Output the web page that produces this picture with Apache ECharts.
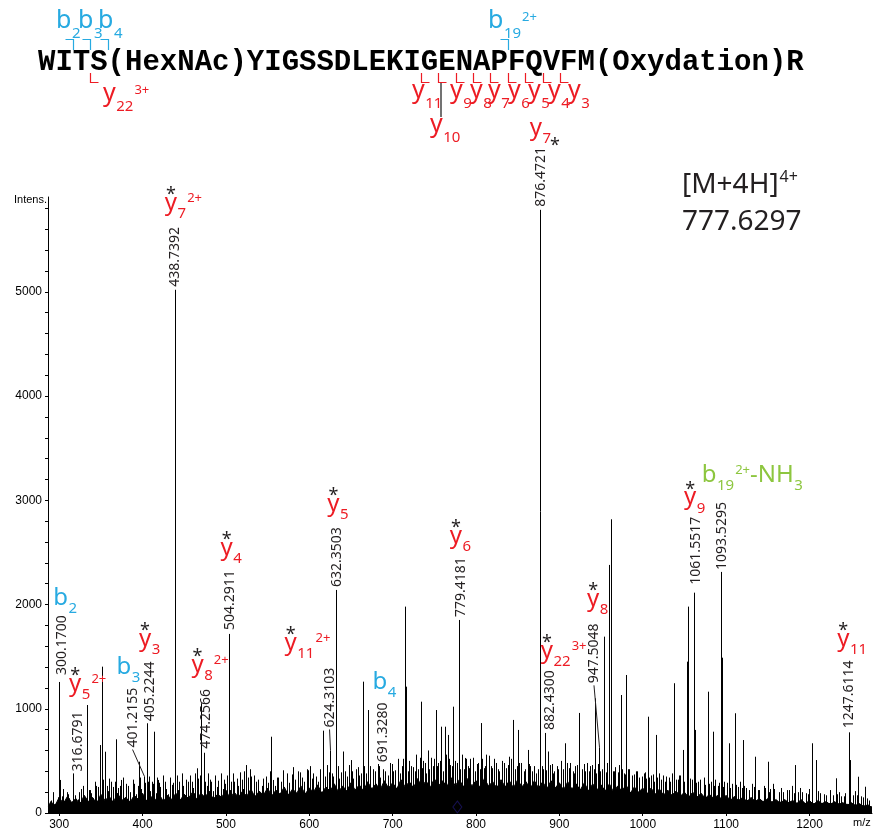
<!DOCTYPE html>
<html>
<head>
<meta charset="utf-8">
<title>MS/MS spectrum</title>
<script src="https://cdn.jsdelivr.net/npm/echarts@6/dist/echarts.min.js"></script>
<style>
  html, body { margin: 0; padding: 0; background: #fff; }
  #main { width: 874px; height: 833px; }
</style>
</head>
<body>
<div id="main"></div>
<script>
// peptide, one entry per residue (modified residues keep their tag)
var residues = ['W', 'I', 'T', 'S(HexNAc)', 'Y', 'I', 'G', 'S', 'S', 'D', 'L', 'E', 'K', 'I', 'G', 'E', 'N', 'A', 'P', 'F', 'Q', 'V', 'F', 'M(Oxydation)', 'R']
var bIons = [2, 3, 4, 19]
var bCharges = ['', '', '', '2+']
var yIons = [22, 11, 10, 9, 8, 7, 6, 5, 4, 3]
var yCharges = ['3+', '', '', '', '', '', '', '', '', '']

var precursorName = '[M+4H]'
var precursorCharge = '4+'
var precursorMz = 777.6297

// annotated peaks
var labelMz = [300.1700, 316.6791, 401.2155, 405.2244, 438.7392, 474.2566, 504.2911, 624.3103, 632.3503, 691.3280, 779.4181, 876.4721, 882.4300, 947.5048, 1061.5517, 1093.5295, 1247.6114]
var labelInt = [1257, 380, 350, 861, 5020, 578, 1718, 600, 2140, 390, 1852, 5787, 768, 630, 2114, 2313, 774]
var ionType = ['b', 'y', 'b', 'y', 'y', 'y', 'y', 'y', 'y', 'b', 'y', 'y', 'y', 'y', 'y', 'b', 'y']
var ionSub = ['2', '5', '3', '3', '7', '8', '4', '11', '5', '4', '6', '7', '22', '8', '9', '19', '11']
var ionCharge = ['', '2+', '', '', '2+', '2+', '', '2+', '', '', '', '', '3+', '', '', '2+', '']
var ionLoss = ['', '', '', '', '', '', '', '', '', '', '', '', '', '', '', '-NH3', '']
var ionStar = [false, true, false, true, true, true, true, true, true, false, true, true, true, true, true, false, true]

// other resolved peaks [m/z, intensity]
var otherPeaks = [
  [301.2, 317], [333.4, 1036], [335.4, 220], [348.9, 652], [351.0, 1404], [355.0, 588], [368.0, 707], [374.0, 317],
  [395.6, 492], [406.2, 300], [414.0, 780], [418.8, 317], [439.24, 3480], [464.8, 429], [470.0, 1053], [473.5, 508],
  [505.3, 220], [524.7, 460], [554.6, 732], [556.0, 317], [616.5, 790], [640.2, 590], [650.0, 508], [664.5, 1260],
  [670.5, 988], [676.0, 412], [714.4, 1980], [715.5, 1212], [734.4, 1068], [752.4, 988], [758.4, 828], [762.3, 828],
  [766.3, 749], [772.3, 1020], [786.3, 528], [806.3, 863], [844.2, 893], [850.2, 797], [862.2, 605], [876.97, 2880],
  [886.5, 590], [907.3, 669], [924.0, 960], [942.4, 1100], [954.0, 1692], [960.0, 2380], [962.0, 2818], [974.0, 1132],
  [980.0, 1324], [1006.0, 924], [1016.0, 749], [1038.0, 1245], [1048.0, 605], [1053.0, 1452], [1054.0, 1980], [1062.5, 797],
  [1077.8, 1164], [1083.8, 780], [1094.5, 1490], [1103.0, 669], [1110.6, 957], [1120.6, 700], [1135.0, 540], [1149.8, 492],
  [1183.0, 460], [1203.0, 669], [1207.7, 508], [1231.7, 333], [1248.6, 508], [1258.8, 348], [1266.7, 252]
]

// small noise peaks [m/z, intensity]
var grassPeaks = [
  [290, 120], [293, 180], [296, 90], [303, 160], [306, 110], [309, 200], [312, 140], [314, 90], [319, 170], [322, 130],
  [326, 230], [328, 150], [331, 120], [338, 190], [341, 140], [344, 260], [346, 170], [358, 210], [362, 300], [365, 160],
  [371, 240], [377, 190], [383, 260], [385, 200], [390, 280], [392, 180], [398, 230], [409, 210], [411, 300], [416, 190],
  [421, 250], [428, 230], [430, 180], [435, 270], [442, 220], [448, 260], [450, 180], [455, 300], [460, 240], [462, 190],
  [467, 330], [477, 260], [482, 300], [484, 210], [489, 250], [496, 230], [499, 280], [508, 240], [510, 300], [515, 260],
  [520, 230], [527, 290], [530, 350], [536, 300], [543, 260], [545, 330], [551, 290], [559, 260], [561, 340], [566, 300],
  [573, 380], [576, 290], [583, 320], [586, 400], [594, 300], [597, 420], [603, 330], [605, 380], [611, 300], [613, 420],
  [619, 350], [621, 460], [627, 380], [636, 330], [643, 400], [645, 350], [648, 460], [653, 330], [656, 420], [660, 360],
  [668, 380], [673, 450], [679, 400], [682, 470], [685, 340], [688, 420], [694, 360], [697, 480], [703, 410], [706, 520],
  [709, 380], [711, 450], [718, 400], [720, 500], [725, 440], [728, 560], [731, 420], [737, 500], [740, 380], [742, 600],
  [748, 450], [750, 520], [755, 480], [760, 400], [764, 560], [769, 460], [775, 500], [781, 420], [783, 560], [790, 450],
  [793, 520], [799, 400], [802, 480], [809, 430], [812, 560], [818, 450], [821, 520], [828, 400], [831, 500], [838, 460],
  [840, 540], [847, 420], [854, 480], [857, 400], [865, 450], [872, 380], [880, 420], [889, 460], [892, 380], [898, 420],
  [902, 500], [911, 430], [913, 480], [918, 380], [921, 460], [927, 420], [933, 480], [936, 400], [939, 460], [944, 380],
  [951, 420], [957, 480], [965, 400], [971, 460], [977, 380], [984, 420], [987, 360], [993, 400], [996, 340], [1001, 380],
  [1004, 330], [1010, 360], [1013, 300], [1019, 380], [1022, 320], [1028, 350], [1033, 300], [1035, 380], [1042, 320], [1045, 360],
  [1057, 330], [1066, 300], [1073, 340], [1080, 280], [1087, 320], [1090, 260], [1098, 300], [1107, 280], [1114, 250], [1117, 300],
  [1124, 240], [1131, 280], [1138, 220], [1145, 260], [1153, 230], [1156, 280], [1163, 200], [1166, 240], [1173, 220], [1179, 260],
  [1186, 200], [1189, 240], [1196, 190], [1199, 230], [1210, 210], [1218, 180], [1225, 220], [1228, 170], [1235, 200], [1238, 160],
  [1243, 190], [1252, 170], [1255, 210], [1262, 160], [1269, 140], [1272, 120]
]

// more noise, in between the first set [m/z, intensity]
var grassPeaks2 = [
  [292, 200], [298, 150], [305, 230], [311, 180], [317, 250], [324, 200], [329, 260], [337, 220], [343, 300], [347, 250],
  [353, 320], [357, 260], [360, 330], [364, 250], [367, 300], [373, 260], [376, 340], [380, 280], [388, 320], [394, 260],
  [397, 340], [403, 290], [408, 350], [413, 280], [417, 340], [420, 290], [424, 360], [427, 300], [433, 340], [437, 290],
  [441, 360], [444, 300], [447, 380], [452, 320], [457, 360], [459, 300], [463, 380], [466, 320], [469, 360], [475, 300],
  [479, 380], [481, 320], [487, 360], [491, 310], [494, 380], [498, 320], [501, 360], [506, 300], [509, 380], [513, 330],
  [517, 390], [519, 320], [522, 400], [526, 340], [529, 420], [534, 360], [539, 320], [548, 350], [553, 400], [563, 340],
  [569, 410], [579, 370], [581, 440], [589, 390], [591, 340], [599, 410], [601, 450], [608, 350], [617, 420], [624, 390],
  [629, 350], [634, 450], [638, 390], [641, 420], [651, 400], [658, 440], [662, 380], [666, 450], [671, 480], [677, 420],
  [684, 450], [691, 400], [699, 470], [701, 400], [712, 520], [716, 420], [722, 450], [727, 400], [733, 530], [735, 430],
  [739, 480], [744, 420], [746, 530], [753, 450], [757, 500], [763, 420], [768, 520], [771, 450], [777, 480], [785, 420],
  [788, 520], [792, 430], [796, 530], [801, 470], [805, 420], [807, 520], [811, 450], [815, 550], [819, 430], [824, 480],
  [826, 420], [833, 480], [836, 430], [842, 520], [849, 450], [852, 480], [859, 420], [863, 470], [867, 400], [870, 450],
  [874, 420], [879, 450], [884, 410], [891, 470], [894, 400], [897, 450], [904, 420], [909, 480], [916, 400], [919, 450],
  [923, 420], [929, 470], [931, 400], [937, 450], [941, 420], [946, 470], [949, 400], [953, 440], [956, 390], [959, 450],
  [964, 400], [967, 440], [970, 390], [975, 420], [979, 370], [982, 420], [989, 370], [992, 400], [999, 350], [1003, 390],
  [1008, 340], [1012, 370], [1017, 340], [1024, 360], [1027, 300], [1031, 340], [1040, 320], [1044, 360], [1050, 300], [1059, 320],
  [1064, 290], [1069, 320], [1075, 270], [1082, 300], [1086, 260], [1092, 290], [1096, 250], [1101, 290], [1105, 240], [1112, 270],
  [1119, 240], [1122, 260], [1127, 220], [1133, 250], [1140, 220], [1147, 240], [1151, 200], [1158, 230], [1168, 200], [1175, 220],
  [1181, 190], [1191, 200], [1198, 180], [1213, 190], [1220, 170], [1233, 180], [1241, 160], [1257, 170], [1264, 150]
]

// jagged top of the dense baseline [m/z, intensity]
var floorProfile = [
  [287, 60], [290, 110], [295, 70], [300, 150], [305, 90], [310, 160], [315, 100], [320, 140], [325, 80], [330, 170],
  [335, 110], [340, 150], [345, 90], [350, 180], [355, 120], [360, 160], [365, 100], [370, 190], [375, 120], [380, 150],
  [385, 100], [390, 170], [395, 130], [400, 190], [405, 110], [410, 160], [415, 120], [420, 180], [425, 110], [430, 170],
  [435, 130], [440, 190], [445, 120], [450, 180], [455, 140], [460, 200], [465, 130], [470, 190], [475, 150], [480, 210],
  [485, 130], [490, 180], [495, 150], [500, 220], [505, 140], [510, 200], [515, 150], [520, 210], [525, 160], [530, 230],
  [535, 150], [540, 210], [545, 170], [550, 240], [555, 160], [560, 220], [565, 180], [570, 250], [575, 170], [580, 230],
  [585, 190], [590, 260], [595, 180], [600, 240], [605, 200], [610, 270], [615, 190], [620, 250], [625, 210], [630, 280],
  [635, 200], [640, 260], [645, 210], [650, 290], [655, 220], [660, 270], [665, 210], [670, 300], [675, 230], [680, 280],
  [685, 220], [690, 310], [695, 240], [700, 290], [705, 230], [710, 320], [715, 250], [720, 300], [725, 240], [730, 330],
  [735, 250], [740, 310], [745, 240], [750, 330], [755, 260], [760, 310], [765, 250], [770, 340], [775, 260], [780, 320],
  [785, 250], [790, 330], [795, 260], [800, 310], [805, 240], [810, 330], [815, 260], [820, 300], [825, 240], [830, 320],
  [835, 250], [840, 310], [845, 240], [850, 320], [855, 250], [860, 300], [865, 230], [870, 310], [875, 240], [880, 300],
  [885, 230], [890, 310], [895, 240], [900, 290], [905, 220], [910, 300], [915, 230], [920, 280], [925, 220], [930, 290],
  [935, 210], [940, 280], [945, 220], [950, 270], [955, 210], [960, 280], [965, 200], [970, 260], [975, 210], [980, 270],
  [985, 190], [990, 250], [995, 200], [1000, 240], [1005, 180], [1010, 240], [1015, 180], [1020, 230], [1025, 170], [1030, 220],
  [1035, 170], [1040, 210], [1045, 160], [1050, 200], [1055, 150], [1060, 200], [1065, 150], [1070, 190], [1075, 140], [1080, 180],
  [1085, 140], [1090, 170], [1095, 130], [1100, 170], [1105, 120], [1110, 160], [1115, 120], [1120, 150], [1125, 110], [1130, 150],
  [1135, 110], [1140, 140], [1145, 100], [1150, 140], [1155, 100], [1160, 130], [1165, 90], [1170, 130], [1175, 100], [1180, 120],
  [1185, 90], [1190, 130], [1195, 90], [1200, 120], [1205, 80], [1210, 120], [1215, 90], [1220, 110], [1225, 80], [1230, 110],
  [1235, 80], [1240, 100], [1245, 70], [1250, 100], [1255, 70], [1260, 90], [1265, 60], [1270, 80], [1275, 50]
]

// solid core of the baseline [m/z, intensity]
var floorCore = [
  [287, 50], [300, 90], [325, 100], [350, 110], [375, 110], [400, 120], [425, 120], [450, 130], [475, 140], [500, 150],
  [525, 160], [550, 170], [575, 180], [600, 190], [625, 200], [650, 210], [675, 220], [700, 230], [725, 240], [750, 250],
  [775, 250], [800, 250], [825, 250], [850, 250], [875, 240], [900, 230], [925, 220], [950, 210], [975, 200], [1000, 190],
  [1025, 170], [1050, 160], [1075, 150], [1100, 130], [1125, 120], [1150, 110], [1175, 100], [1200, 90], [1225, 90], [1250, 80],
  [1275, 60]
]

var xTicks = [300, 400, 500, 600, 700, 800, 900, 1000, 1100, 1200]
var yTicks = [0, 1000, 2000, 3000, 4000, 5000]
var yMinorTicks = [0, 200, 400, 600, 800, 1000, 1200, 1400, 1600, 1800, 2000, 2200, 2400, 2600, 2800, 3000, 3200, 3400, 3600, 3800, 4000, 4200, 4400, 4600, 4800, 5000, 5200, 5400, 5600, 5800]

// ---- layout (pixels) ----
var INK = '#231f20', RED = '#ed1c24', BLUE = '#27aae1', GREEN = '#8dc63f'
var SANS = '"Noto Sans", sans-serif'
var MONO = '"Liberation Mono", monospace'
var AXIS_FONT = 'Liberation Sans'
var MID = { sans: 0.30, mono: 0.25, arial: 0.33 } // canvas 'middle' above baseline, in em
var NUM_FONT = '14px ' + SANS

// per-label placement: number label shift / gap above peak, ion label shift / lift
var numDx = [3, 5, -11, 3, 0, 2, 1, 0, 1, -2, 2, 1, 5, -5, 2, 1, 0]
var numGap = [7, 2, 29, 2, 3, 4, 4, 23, 3, 10, 3, 3, 3, 64, 8, 2, 4]
var leader = [0, 0, 1, 0, 0, 0, 0, 1, 0, 0, 0, 0, 0, 1, 0, 0, 0]
var ionDx = [-6, -4, -27, -8, -10, -13, -9, -45, -9, -13, -9, -10, -4, -12, -10, -19, -12]
var ionDy = [10, 20, 13, 15, 17, 17, 15, 17, 16, 13, 14, 12, 12, 17, 12, 20, 14]
var starRight = [0, 0, 0, 0, 0, 0, 0, 0, 0, 0, 0, 1, 0, 0, 0, 0, 0]

var SPEC_SIZES = { main: 24, sub: 15, sup: 13, drop: 8, rise: 8, star: 18, starLift: 10 }
var TOP_SIZES = { main: 25, sub: 15, sup: 13, drop: 10, rise: 7, star: 18, starLift: 10 }

var measureCtx = document.createElement('canvas').getContext('2d')
function textWidth(str, font) {
  measureCtx.font = font
  return measureCtx.measureText(str).width
}

// text placed by its alphabetic baseline (zrender draws lines on 'middle')
function baseText(str, x, baseline, size, color, align, family, weight, mid) {
  var fam = family || SANS
  return {
    type: 'text', x: x, y: baseline - (mid || MID.sans) * size, silent: true,
    style: {
      text: str, font: (weight || 'normal') + ' ' + size + 'px ' + fam,
      fill: color, align: align || 'left', verticalAlign: 'middle'
    }
  }
}

function splitLoss(loss) {
  var m = loss.match(/^(.*?)(\d*)$/)
  var t = [{ text: m[1], kind: 'main' }]
  if (m[2]) t.push({ text: m[2], kind: 'sub' })
  return t
}

function ionText(tokens, left, baseline, color, sz, star, starOnRight) {
  var out = []
  var x = left
  var firstW = 0
  tokens.forEach(function (tk, j) {
    var size = sz[tk.kind]
    var w = textWidth(tk.text, size + 'px ' + SANS)
    if (tk.kind === 'sub') x += 0.5
    if (tk.kind === 'sup') x += 1
    var b = baseline + (tk.kind === 'sub' ? sz.drop : tk.kind === 'sup' ? -sz.rise : 0)
    out.push(baseText(tk.text, x, b, size, color))
    if (j === 0) firstW = w
    x += w
  })
  if (star) {
    if (starOnRight) out.push(baseText('*', x + 4, baseline + 16, sz.star, INK, 'center'))
    else out.push(baseText('*', left + firstW / 2, baseline - sz.starLift, sz.star, INK, 'center'))
  }
  return out
}

function ionTokens(i) {
  var t = [{ text: ionType[i], kind: 'main' }, { text: ionSub[i], kind: 'sub' }]
  if (ionCharge[i]) t.push({ text: ionCharge[i], kind: 'sup' })
  if (ionLoss[i]) t = t.concat(splitLoss(ionLoss[i]))
  return t
}

function ionColor(i) {
  if (ionLoss[i]) return GREEN
  return ionType[i] === 'b' ? BLUE : RED
}

function renderStick(params, api) {
  var top = api.coord([api.value(0), api.value(1)])
  var base = api.coord([api.value(0), 0])
  var x = Math.round(top[0]) + 0.5
  return {
    type: 'line', silent: true,
    shape: { x1: x, y1: base[1], x2: x, y2: top[1] },
    style: { stroke: '#000', lineWidth: 1 }
  }
}

function renderLabel(params, api) {
  var i = params.dataIndex
  var p = api.coord([labelMz[i], labelInt[i]])
  var txt = labelMz[i].toFixed(4)
  var len = textWidth(txt, NUM_FONT)
  var nx = p[0] + numDx[i]
  var nb = p[1] - numGap[i]
  var kids = [{
    type: 'text', x: nx, y: nb, rotation: Math.PI / 2, silent: true,
    style: { text: txt, font: NUM_FONT, fill: INK, align: 'left', verticalAlign: 'middle' }
  }]
  if (leader[i]) {
    kids.push({
      type: 'line', silent: true,
      shape: { x1: nx, y1: nb + 2, x2: Math.round(p[0]) + 0.5, y2: p[1] },
      style: { stroke: INK, lineWidth: 1 }
    })
  }
  kids = kids.concat(ionText(ionTokens(i), p[0] + ionDx[i], nb - len - ionDy[i], ionColor(i), SPEC_SIZES, ionStar[i], starRight[i]))
  return { type: 'group', children: kids }
}

// ---- sequence header ----
var SEQ_LEFT = 38, SEQ_BASE = 70, SEQ_SIZE = 29
var bLabelLeft = [56, 78, 98, 488]
var yLabelLeft = [103, 412, 430, 450, 470, 488, 508, 528, 548, 568]
var yLabelBase = [101, 98, 132, 98, 98, 98, 98, 98, 98, 98]

function headerGraphics() {
  var g = []
  var seqFont = 'bold ' + SEQ_SIZE + 'px ' + MONO
  var cw = textWidth('W', seqFont)
  var charStart = []
  var acc = 0
  residues.forEach(function (r) { charStart.push(acc); acc += r.length })

  g.push(baseText(residues.join(''), SEQ_LEFT, SEQ_BASE, SEQ_SIZE, '#000', 'left', MONO, 'bold', MID.mono))

  bIons.forEach(function (n, k) {
    var bx = Math.round(SEQ_LEFT + (charStart[n - 1] + 1) * cw) + 0.5
    g.push({ type: 'polyline', silent: true, shape: { points: [[bx - 8, 39.5], [bx, 39.5], [bx, 50]] }, style: { stroke: BLUE, lineWidth: 1.2, fill: null } })
    var tk = [{ text: 'b', kind: 'main' }, { text: String(n), kind: 'sub' }]
    if (bCharges[k]) tk.push({ text: bCharges[k], kind: 'sup' })
    g = g.concat(ionText(tk, bLabelLeft[k], 28, BLUE, TOP_SIZES, false, false))
  })

  yIons.forEach(function (n, k) {
    var yx = Math.round(SEQ_LEFT + charStart[residues.length - n] * cw) + 0.5
    g.push({ type: 'polyline', silent: true, shape: { points: [[yx, 73], [yx, 82.5], [yx + 8, 82.5]] }, style: { stroke: RED, lineWidth: 1.2, fill: null } })
    if (n === 10) {
      g.push({ type: 'line', silent: true, shape: { x1: yx + 2.5, y1: 83, x2: yx + 2.5, y2: 117 }, style: { stroke: '#444', lineWidth: 1.5 } })
    }
    var tk = [{ text: 'y', kind: 'main' }, { text: String(n), kind: 'sub' }]
    if (yCharges[k]) tk.push({ text: yCharges[k], kind: 'sup' })
    g = g.concat(ionText(tk, yLabelLeft[k], yLabelBase[k], RED, TOP_SIZES, false, false))
  })

  // precursor
  g.push(baseText(precursorName, 682, 193, 28, INK))
  g.push(baseText(precursorCharge, 682 + textWidth(precursorName, '28px ' + SANS) + 1, 182, 16, INK))
  g.push(baseText(precursorMz.toFixed(4), 682, 230, 28, INK))

  // axis captions
  g.push(baseText('Intens.', 14, 204, 11, '#000', 'left', AXIS_FONT, 'normal', MID.arial))
  g.push(baseText('m/z', 853, 827, 11, '#000', 'left', AXIS_FONT, 'normal', MID.arial))
  return g
}

var chart = echarts.init(document.getElementById('main'))

var stickData = otherPeaks.concat(grassPeaks).concat(grassPeaks2).concat(labelMz.map(function (m, i) { return [m, labelInt[i]] }))
var labelData = labelMz.map(function (m, i) { return [m, labelInt[i]] })
var plain = function (v) { return String(v) }
var solidBand = {
  type: 'line', symbol: 'none', silent: true, z: 1,
  lineStyle: { width: 1, color: '#000' },
  areaStyle: { color: '#000', opacity: 1 }
}

chart.setOption({
  animation: false,
  backgroundColor: '#fff',
  grid: { left: 48, right: 2, top: 197, bottom: 20 },
  xAxis: {
    type: 'value', min: 286.6, max: 1275,
    axisLine: { show: true, lineStyle: { color: '#000', width: 1 } },
    axisTick: { show: true, customValues: xTicks, length: 3, lineStyle: { color: '#000' } },
    axisLabel: { customValues: xTicks, formatter: plain, color: '#000', fontSize: 12, fontFamily: AXIS_FONT, margin: 6 },
    splitLine: { show: false }
  },
  yAxis: {
    type: 'value', min: 0, max: 5910,
    axisLine: { show: true, lineStyle: { color: '#000', width: 1 } },
    axisTick: { show: true, customValues: yMinorTicks, length: 3, lineStyle: { color: '#000' } },
    axisLabel: { customValues: yTicks, formatter: plain, color: '#000', fontSize: 12, fontFamily: AXIS_FONT, margin: 6 },
    splitLine: { show: false }
  },
  series: [
    Object.assign({ data: floorProfile }, solidBand),
    Object.assign({ data: floorCore, smooth: true }, solidBand),
    { type: 'custom', data: stickData, renderItem: renderStick, z: 2, silent: true, clip: true },
    {
      type: 'scatter', data: [[precursorMz, 0]], symbol: 'diamond', symbolSize: [9, 12], symbolOffset: [0, -6], z: 3, silent: true,
      itemStyle: { color: 'rgba(0,0,0,0)', borderColor: '#1b1464', borderWidth: 1 }
    },
    { type: 'custom', data: labelData, renderItem: renderLabel, z: 4, silent: true, clip: false }
  ],
  graphic: headerGraphics()
})
</script>
</body>
</html>
